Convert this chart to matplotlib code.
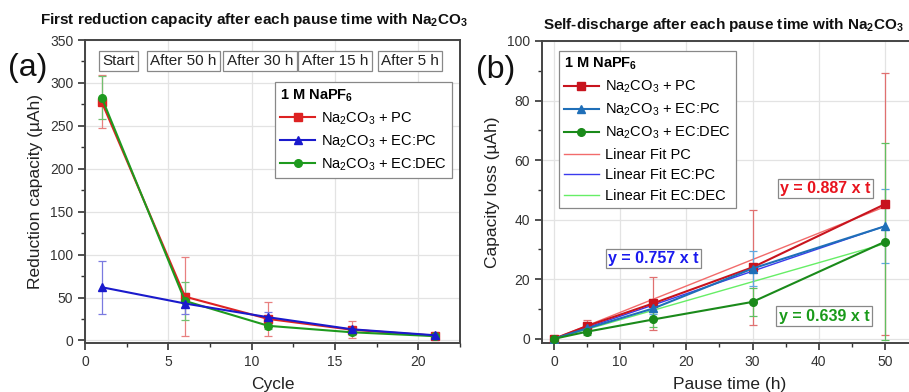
import numpy as np
import matplotlib
matplotlib.use("Agg")
from matplotlib import pyplot as plt
from matplotlib.lines import Line2D

plt.rcParams['font.family'] = ['Liberation Sans', 'DejaVu Sans']
plt.rcParams['mathtext.default'] = 'regular'

# ---- data, panel (a) ----
cycle = [1, 6, 11, 16, 21]
red_pc = [278, 51, 25, 12.5, 5.5]
red_pc_err = [31, 46, 20, 10, 3]
cap_ecpc = [62, 43, 27, 13, 6]
cap_ecpc_err = [31, 12, 6, 3, 3]
cap_ecdec = [283, 46, 17, 9.5, 5]
cap_ecdec_err = [25, 22, 4, 3, 2]
pause_labels = ['Start', 'After 50 h', 'After 30 h', 'After 15 h', 'After 5 h']
pause_label_x = [2.0, 5.9, 10.5, 15.0, 19.5]

# ---- data, panel (b) ----
pause = [0, 5, 15, 30, 50]
loss_pc = [0, 4.3, 11.9, 24.0, 45.2]
loss_pc_err = [0.5, 2.0, 8.8, 19.2, 44.0]
loss_ecpc = [0, 3.5, 10.2, 23.6, 37.8]
loss_ecpc_err = [0.5, 1.5, 2.0, 6.0, 12.4]
loss_ecdec = [0, 2.4, 6.5, 12.4, 32.6]
loss_ecdec_err = [0.5, 1.0, 2.5, 4.7, 33.0]
slopes = [0.887, 0.757, 0.639]

fig = plt.figure(figsize=(9.09, 3.92), dpi=100)
ax1 = fig.add_axes([85/909, 49/392, 375/909, 303/392])
ax2 = fig.add_axes([542/909, 49/392, 376/909, 302/392])

def style_axes(ax):
    for s in ax.spines.values():
        s.set_color('#444444')
        s.set_linewidth(1.4)
    ax.tick_params(which='both', direction='out', colors='#333333', labelsize=10)
    ax.tick_params(which='major', length=5, width=1.2)
    ax.tick_params(which='minor', length=3, width=1.0)
    ax.grid(True, which='major', color='#e3e3e3', linewidth=0.9)
    ax.set_axisbelow(True)

# ---- panel (a) ----
style_axes(ax1)
cols_a = ['#dd2222', '#1a1acc', '#1e9a1e']
ecols_a = ['#e88080', '#7a7ae0', '#70c070']
series_a = [(red_pc, red_pc_err, 's'), (cap_ecpc, cap_ecpc_err, '^'), (cap_ecdec, cap_ecdec_err, 'o')]
order = [0, 2, 1]
for i in order:
    y, e, m = series_a[i]
    ax1.errorbar(cycle, y, yerr=e, fmt='none', ecolor=ecols_a[i], elinewidth=0.9,
                 capsize=3, capthick=0.9, zorder=2)
    ax1.plot(cycle, y, color=cols_a[i], marker=m, markersize=5.5, linewidth=1.5, zorder=3)
ax1.set_xlim(0, 22.5)
ax1.set_ylim(-3, 350)
ax1.set_xticks([0, 5, 10, 15, 20])
ax1.set_xticks(np.arange(0, 22.6, 2.5), minor=True)
ax1.set_yticks(np.arange(0, 351, 50))
ax1.set_yticks(np.arange(0, 351, 25), minor=True)
ax1.set_xlabel('Cycle', fontsize=12.5, color='#222222', labelpad=6)
ax1.set_ylabel('Reduction capacity (µAh)', fontsize=12.5, color='#222222', labelpad=5)
for lab, xx in zip(pause_labels, pause_label_x):
    ax1.text(xx, 325.5, lab, ha='center', va='center', fontsize=11, color='#222222',
             bbox=dict(boxstyle='square,pad=0.22', fc='white', ec='#888888', lw=0.9))
handles_a = [Line2D([], [], color=cols_a[i], marker=series_a[i][2], markersize=5.5, linewidth=1.5)
             for i in range(3)]
labels_a = ['Na$_2$CO$_3$ + PC', 'Na$_2$CO$_3$ + EC:PC', 'Na$_2$CO$_3$ + EC:DEC']
leg1 = ax1.legend(handles_a, labels_a, title='1 M NaPF$_6$', loc='upper right',
                  bbox_to_anchor=(0.987, 0.87), fontsize=10.5, title_fontsize=10.5,
                  fancybox=False, edgecolor='#888888', framealpha=1, borderpad=0.35,
                  handlelength=2.4, handletextpad=0.4, labelspacing=0.45, borderaxespad=0.2)
leg1.get_title().set_fontweight('bold')
leg1._legend_box.align = 'left'
leg1.get_frame().set_linewidth(0.9)

# ---- panel (b) ----
style_axes(ax2)
cols_b = ['#c8141e', '#1f6fb8', '#1a8a1a']
ecols_b = ['#e07070', '#5fa8e0', '#60c060']
fitcols = ['#f26b6b', '#3a3aee', '#66ee66']
series_b = [(loss_pc, loss_pc_err, 's'), (loss_ecpc, loss_ecpc_err, '^'), (loss_ecdec, loss_ecdec_err, 'o')]
tfit = np.array([0, 50])
for i in range(3):
    ax2.plot(tfit, slopes[i] * tfit, color=fitcols[i], linewidth=1.0, zorder=2)
for i in range(3):
    y, e, m = series_b[i]
    ax2.errorbar(pause, y, yerr=e, fmt='none', ecolor=ecols_b[i], elinewidth=0.9,
                 capsize=3, capthick=0.9, zorder=2)
    ax2.plot(pause, y, color=cols_b[i], marker=m, markersize=5.5, linewidth=1.5, zorder=3)
ax2.set_xlim(-1.8, 55)
ax2.set_ylim(-1.4, 100)
ax2.set_xticks([0, 10, 20, 30, 40, 50])
ax2.set_xticks(np.arange(0, 56, 5), minor=True)
ax2.set_yticks(np.arange(0, 101, 20))
ax2.set_yticks(np.arange(0, 101, 10), minor=True)
ax2.set_xlabel('Pause time (h)', fontsize=12.5, color='#222222', labelpad=6)
ax2.set_ylabel('Capacity loss (µAh)', fontsize=12.5, color='#222222', labelpad=5)
handles_b = [Line2D([], [], color=cols_b[i], marker=series_b[i][2], markersize=5.5, linewidth=1.5)
             for i in range(3)]
handles_b += [Line2D([], [], color=fitcols[i], linewidth=1.0) for i in range(3)]
labels_b = labels_a + ['Linear Fit PC', 'Linear Fit EC:PC', 'Linear Fit EC:DEC']
leg2 = ax2.legend(handles_b, labels_b, title='1 M NaPF$_6$', loc='upper left',
                  bbox_to_anchor=(0.037, 0.977), fontsize=10.5, title_fontsize=10.5,
                  fancybox=False, edgecolor='#888888', framealpha=1, borderpad=0.35,
                  handlelength=2.4, handletextpad=0.4, labelspacing=0.45, borderaxespad=0.2)
leg2.get_title().set_fontweight('bold')
leg2._legend_box.align = 'left'
leg2.get_frame().set_linewidth(0.9)
fit_txt_pos = [(41.0, 50.5), (15.0, 27.0), (40.8, 7.6)]
fit_txt_col = ['#e8141e', '#1a1aee', '#1a9a1a']
for i in range(3):
    ax2.text(fit_txt_pos[i][0], fit_txt_pos[i][1], 'y = %.3f x t' % slopes[i], ha='center',
             va='center', fontsize=11.5, fontweight='bold', color=fit_txt_col[i], zorder=5,
             bbox=dict(boxstyle='square,pad=0.15', fc='white', ec='#888888', lw=0.9))

# titles and panel letters
fig.text(254/909, 1 - 20/392, 'First reduction capacity after each pause time with Na$_2$CO$_3$',
         ha='center', va='center', fontsize=11, fontweight='bold', color='#111111')
fig.text(543/909, 1 - 25/392, 'Self-discharge after each pause time with Na$_2$CO$_3$',
         ha='left', va='center', fontsize=11, fontweight='bold', color='#111111')
fig.text(8/909, 1 - 68/392, '(a)', fontsize=23, ha='left', va='center', color='#111111')
fig.text(476/909, 1 - 70/392, '(b)', fontsize=23, ha='left', va='center', color='#111111')

fig.savefig('out.png', dpi=100)
